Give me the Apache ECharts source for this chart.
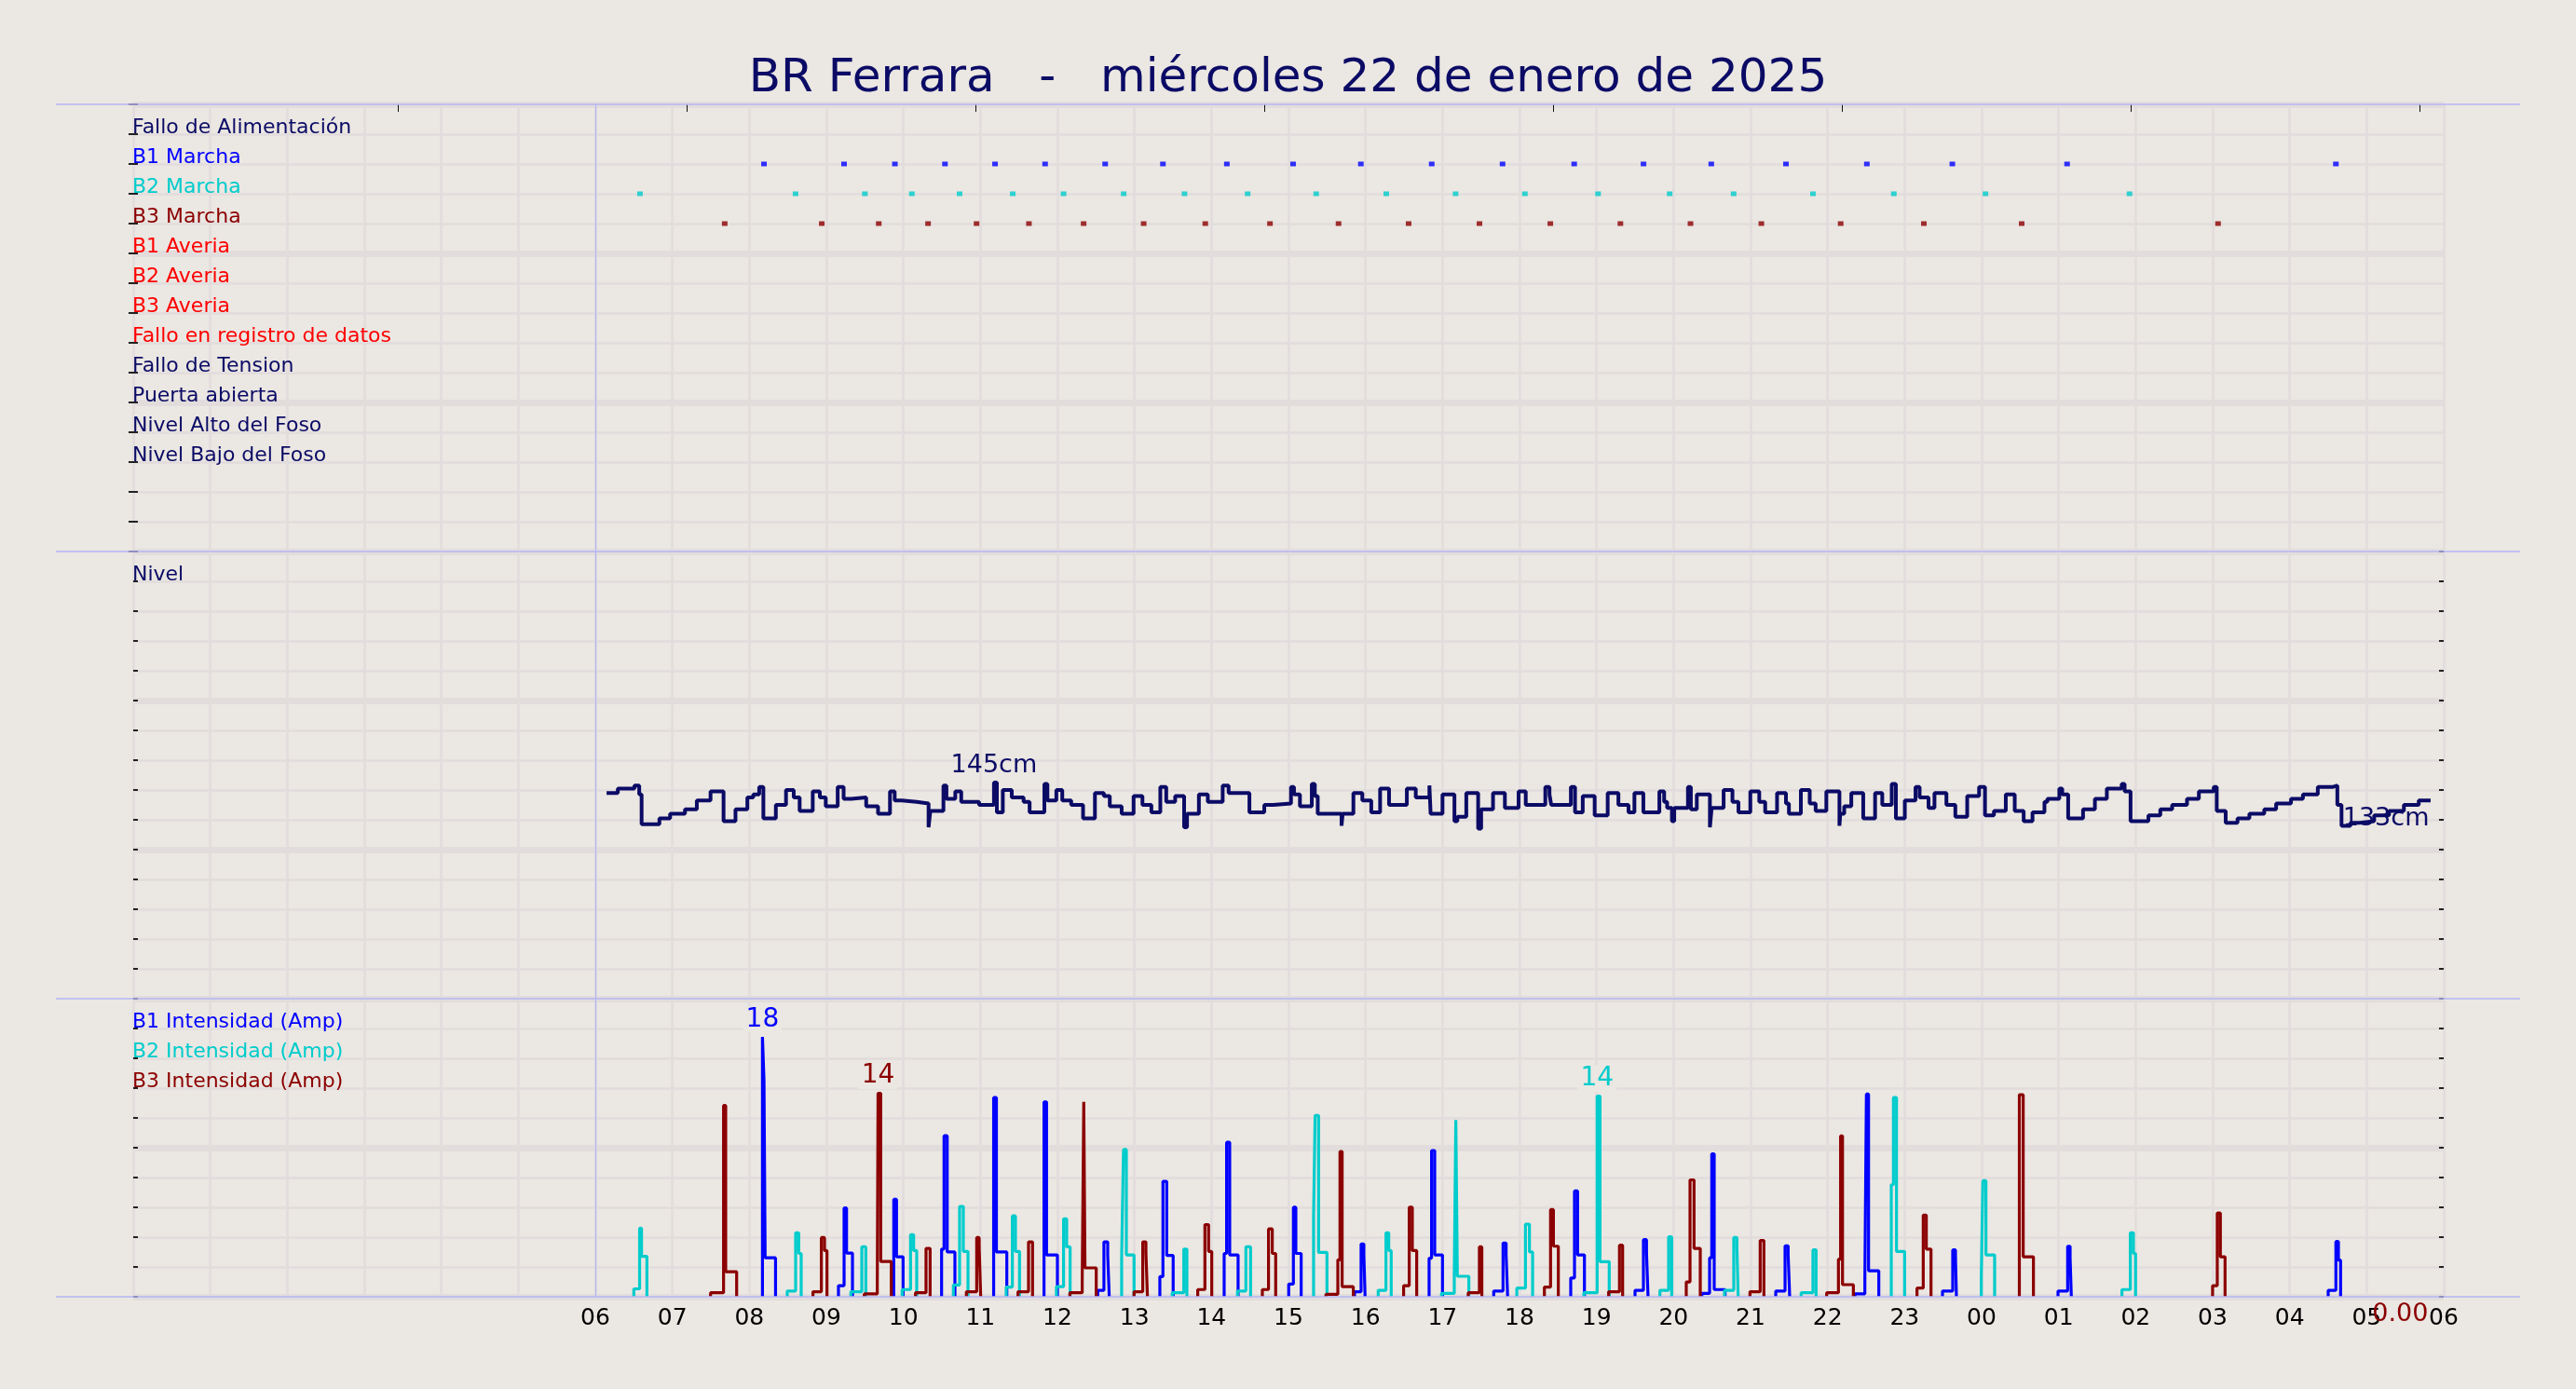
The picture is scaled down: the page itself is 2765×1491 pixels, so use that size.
<!DOCTYPE html>
<html>
<head>
<meta charset="utf-8">
<script src="https://cdn.jsdelivr.net/npm/echarts@6/dist/echarts.min.js"></script>
<style>
html,body{margin:0;padding:0;background:#ebe7e2;}
#c{width:2765px;height:1491px;}
</style>
</head>
<body>
<div id="c"></div>
<script>
// ---------------- DATA ----------------
const titleText = 'BR Ferrara   -   miércoles 22 de enero de 2025';

// x tick labels for hours 6 .. 30 (06:00 day 22 -> 06:00 day 23)
const xTickLabels = ['06','07','08','09','10','11','12','13','14','15','16','17','18','19','20','21','22','23','00','01','02','03','04','05','06'];
const topTicks = [3.44, 7.19, 10.94, 14.69, 18.44, 22.19, 25.94, 29.69];

const statusRows = ['Fallo de Alimentación','B1 Marcha','B2 Marcha','B3 Marcha','B1 Averia','B2 Averia','B3 Averia','Fallo en registro de datos','Fallo de Tension','Puerta abierta','Nivel Alto del Foso','Nivel Bajo del Foso'];
const levelRows = ['Nivel'];
const intensityRows = ['B1 Intensidad (Amp)','B2 Intensidad (Amp)','B3 Intensidad (Amp)'];

// pump start marks (hours)
const b1Marcha = [8.19,9.23,9.89,10.54,11.19,11.84,12.62,13.37,14.20,15.06,15.94,16.86,17.78,18.71,19.61,20.49,21.46,22.51,23.62,25.11,28.60];
const b2Marcha = [6.58,8.60,9.50,10.11,10.73,11.42,12.08,12.86,13.65,14.47,15.36,16.27,17.17,18.07,19.02,19.95,20.78,21.81,22.86,24.05,25.92];
const b3Marcha = [7.68,8.94,9.68,10.32,10.95,11.63,12.34,13.12,13.92,14.76,15.65,16.56,17.48,18.40,19.31,20.22,21.14,22.17,23.25,24.52,27.07];

// level (cm): [hour, value] steps
const levelSteps = [[6.146,138],[6.292,141],[6.508,143],[6.570,137],[6.601,117],[6.832,121],[6.971,124],[7.164,127],[7.318,133],[7.496,139],[7.665,119],[7.820,127],[7.974,135],[8.051,137],[8.128,142],[8.182,121],[8.344,130],[8.476,140],[8.576,135],[8.653,126],[8.823,139],[8.915,135],[8.992,129],[9.147,142],[9.224,134],[9.324,135],[9.517,129],[9.671,124],[9.826,139],[9.887,133],[9.980,132],[10.173,131],[10.327,115],[10.35,126],[10.520,143],[10.559,134],[10.674,139],[10.751,132],[10.983,130],[11.176,145],[11.214,125],[11.291,140],[11.407,135],[11.561,132],[11.639,125],[11.831,144],[11.870,133],[11.986,140],[12.063,133],[12.179,130],[12.333,121],[12.487,138],[12.603,136],[12.680,129],[12.834,124],[12.989,136],[13.104,130],[13.220,125],[13.336,142],[13.413,132],[13.529,136],[13.645,115],[13.683,124],[13.837,137],[13.953,132],[14.146,143],[14.223,138],[14.493,125],[14.686,130],[14.802,131],[15.033,142],[15.072,137],[15.149,129],[15.303,144],[15.342,136],[15.380,124],[15.689,116],[15.704,124],[15.843,138],[15.959,133],[16.075,125],[16.190,141],[16.306,130],[16.537,141],[16.653,135],[16.830,143],[16.846,124],[17.000,137],[17.155,119],[17.193,122],[17.309,138],[17.463,114],[17.502,127],[17.656,138],[17.810,128],
[17.988,139],[18.081,130],[18.335,142],[18.389,137],[18.412,130],[18.667,142],[18.721,125],[18.821,136],[18.976,123],[19.145,138],[19.284,130],[19.415,125],[19.492,138],[19.608,125],[19.816,139],[19.878,132],[19.917,128],[19.979,119],[20.009,128],[20.187,142],[20.225,127],[20.302,137],[20.472,115],[20.495,128],[20.650,140],[20.765,132],[20.843,125],[20.997,139],[21.113,132],[21.190,125],[21.344,138],[21.460,131],[21.498,124],[21.653,140],[21.768,131],[21.845,126],[21.984,139],[22.154,116],[22.165,124],[22.216,129],[22.308,138],[22.463,121],[22.617,138],[22.710,130],[22.833,144],[22.887,121],[23.003,133],[23.142,142],[23.195,135],[23.311,128],[23.388,138],[23.543,130],[23.659,122],[23.813,136],[23.967,142],[24.044,123],[24.160,126],[24.314,137],[24.430,126],[24.546,119],[24.661,125],[24.816,132],[24.854,134],[25.009,141],[25.047,137],[25.124,121],[25.317,127],[25.471,134],[25.626,141],[25.819,144],[25.857,139],[25.934,119],[26.166,123],[26.320,127],[26.474,130],[26.667,134],[26.821,139],[27.014,142],[27.053,126],[27.169,118],[27.323,121],[27.477,124],[27.670,127],[27.824,131],[28.017,134],[28.172,137],[28.365,142],[28.557,143],[28.619,130],[28.673,116],[28.789,118],[28.904,119],[29.097,123],[29.290,126],[29.483,130],[29.676,133],[29.830,133]];

// intensity events (A): [t0, v0, t1, v1, ..., tEnd]
const b1Events = [
[8.17,18.0,8.19,15.0,8.205,2.7,8.34],
[9.157,0.77,9.23,6.15,9.262,3.03,9.339],
[9.875,6.75,9.911,2.77,9.996],
[10.496,3.3,10.528,11.15,10.569,3.1,10.669],
[11.172,13.8,11.208,3.1,11.343],
[11.826,13.5,11.859,2.9,12.0],
[12.524,0.45,12.604,3.8,12.653,2.9,12.673],
[13.33,1.4,13.37,8.0,13.419,2.86,13.503],
[14.165,3.0,14.197,10.7,14.237,2.9,14.346],
[15.003,0.88,15.064,6.2,15.096,3.0,15.165],
[15.858,0.35,15.943,3.66,15.979,2.86,15.995],
[16.826,2.67,16.858,10.13,16.899,2.9,17.0],
[17.665,0.4,17.786,3.72,17.826,2.9,17.846],
[18.665,1.3,18.714,7.33,18.754,2.9,18.843],
[19.5,0.45,19.609,3.96,19.649,3.07,19.669],
[20.367,0.24,20.468,2.7,20.496,9.9,20.528,0.5,20.669],
[21.327,0.4,21.448,3.53,21.488,2.9,21.508],
[22.355,0.2,22.484,1.2,22.504,14.04,22.532,1.8,22.665],
[23.492,0.4,23.625,3.25,23.661,2.7,23.673],
[24.992,0.4,25.117,3.5,25.149,2.7,25.165],
[28.5,0.45,28.6,3.83,28.633,2.54,28.661]
];
const b2Events = [
[6.50,0.55,6.575,4.75,6.60,2.8,6.67],
[8.492,0.4,8.601,4.43,8.641,3.0,8.673],
[9.318,0.35,9.46,3.46,9.512],
[9.984,0.5,10.093,4.3,10.133,3.2,10.173],
[10.649,0.82,10.73,6.26,10.778,3.14,10.839],
[11.335,0.67,11.415,5.6,11.455,3.14,11.508],
[11.987,0.7,12.08,5.4,12.12,3.46,12.165],
[12.834,2.8,12.858,10.2,12.895,2.9,12.995],
[13.49,0.28,13.641,3.3,13.681],
[14.338,0.4,14.447,3.46,14.508],
[15.326,5.55,15.346,12.56,15.391,3.07,15.5],
[16.165,0.45,16.266,4.43,16.302,3.2,16.334],
[16.987,0.24,17.153,1.68,17.173,12.24,17.193,1.42,17.342],
[17.965,0.6,18.077,5.03,18.129,3.1,18.17],
[18.835,0.28,19.008,13.9,19.045,2.43,19.165],
[19.823,0.45,19.936,4.15,19.976],
[20.661,0.45,20.782,4.1,20.823,3.4,20.839],
[21.657,0.28,21.81,3.25,21.851],
[22.827,7.76,22.855,13.8,22.895,3.14,23.0],
[23.996,1.42,24.016,8.04,24.056,2.9,24.169],
[25.822,0.5,25.931,4.43,25.971,3.0,25.999]
];
const b3Events = [
[7.496,0.28,7.665,13.25,7.693,1.74,7.835],
[8.826,0.35,8.935,4.1,8.976,3.2,9.008],
[9.492,0.2,9.661,0.67,9.671,14.1,9.706,2.45,9.843],
[10.157,0.28,10.294,3.35,10.347],
[10.818,0.35,10.952,4.1,10.984,3.46,11.004],
[11.488,0.35,11.625,3.8,11.677],
[12.161,0.28,12.322,1.1,12.342,13.5,12.358,2.0,12.504],
[12.995,0.35,13.108,3.8,13.149,3.07,13.169],
[13.822,0.5,13.915,5.0,13.963,3.14,14.004],
[14.661,0.5,14.741,4.7,14.79,3.0,14.834],
[15.487,0.17,15.641,2.56,15.669,10.06,15.697,0.7,15.842],
[16.495,0.77,16.568,6.2,16.608,3.2,16.665],
[17.334,0.28,17.479,3.46,17.511],
[18.323,0.67,18.403,6.04,18.44,3.5,18.504],
[19.157,0.35,19.298,3.57,19.339],
[20.165,1.03,20.214,8.1,20.266,3.35,20.347],
[20.992,0.35,21.125,3.9,21.173],
[21.988,0.28,22.141,2.6,22.169,11.14,22.194,0.84,22.335],
[23.161,0.6,23.242,5.66,23.282,3.3,23.343],
[24.49,14.0,24.54,2.77,24.673],
[26.999,0.77,27.06,5.8,27.1,2.77,27.161]
];
const b3LastValue = 0.00;

// ---------------- STYLE ----------------
const FONT = 'DejaVu Sans';
const BG = '#ebe7e2', GRIDC = '#e2dddc', LAV = '#b4b4f4', NAVY = '#0b0b66';
const B1C = '#0000ff', B2C = '#00cccc', B3C = '#8b0000', REDC = '#ff0000';
const statusColors = [NAVY,B1C,B2C,B3C,REDC,REDC,REDC,REDC,NAVY,NAVY,NAVY,NAVY];
const intensityColors = [B1C,B2C,B3C];
const PL = 143, PR = 2623;
const PANELS = [[112,592],[592,1072],[1072,1392]];

// ---------------- BUILD ----------------
function eventsToSteps(events){
  const pts = [];
  events.forEach(ev => {
    const tEnd = ev[ev.length-1];
    pts.push([ev[0], 0]);
    for (let i = 0; i + 1 < ev.length; i += 2) pts.push([ev[i], ev[i+1]]);
    pts.push([tEnd, 0]);
    pts.push([tEnd, '-']);
  });
  return pts;
}
function maxPoint(pts){
  let best = null;
  pts.forEach(p => { if (typeof p[1] === 'number' && (!best || p[1] > best[1])) best = p; });
  return best;
}
const b1Data = eventsToSteps(b1Events), b2Data = eventsToSteps(b2Events), b3Data = eventsToSteps(b3Events);
const lastLevel = levelSteps[levelSteps.length-1];
const maxLevel = maxPoint(levelSteps);

function rowLabel(labels, colors, idxOf){
  const rich = {};
  labels.forEach((t,i) => { rich['r'+i] = {color: colors[i], fontSize: 22, fontFamily: FONT, lineHeight: 13}; });
  return {show:true, inside:true, margin:-1, align:'left', verticalAlign:'bottom',
    formatter: v => { const i = idxOf(v); return (i >= 0 && i < labels.length) ? '{r'+i+'|'+labels[i]+'}' : ''; },
    rich};
}
const tickIn = {show:true, inside:true, length:5, lineStyle:{color:'#222', width:2}};
function minorAxis(grid, min, max, interval, inverse, label){
  return {type:'value', gridIndex:grid, min, max, interval, inverse, position:'left',
    axisLine:{show:false}, axisTick:tickIn,
    splitLine:{show:true, lineStyle:{color:GRIDC, width:2.5}},
    axisLabel: label || {show:false}};
}
function rightAxis(grid, min, max, interval, inverse){
  return {type:'value', gridIndex:grid, min, max, interval, inverse, position:'right',
    axisLine:{show:false}, axisTick:tickIn, splitLine:{show:false}, axisLabel:{show:false}};
}
function majorAxis(grid, min, max, interval, inverse){
  return {type:'value', gridIndex:grid, min, max, interval, inverse, position:'left',
    axisLine:{show:false}, axisTick:{show:false}, axisLabel:{show:false},
    splitLine:{show:true, lineStyle:{color:GRIDC, width:7}}};
}
function xAxisFor(grid, labels){
  return {type:'value', gridIndex:grid, min:0, max:30, interval:1,
    axisLine:{show:false}, axisTick:{show:false},
    splitLine:{show:true, lineStyle:{color:GRIDC, width:2.5}},
    axisLabel: labels ? {show:true, color:'#000', fontSize:25, fontFamily:FONT, margin:11,
      formatter: v => (v >= 6 && v - 6 < xTickLabels.length) ? xTickLabels[v-6] : ''} : {show:false}};
}
const startLine = {silent:true, symbol:'none', label:{show:false},
  lineStyle:{color:LAV, width:1.2, type:'solid'}, data:[{xAxis:6}]};

const marchaSeries = (data, row, color) => ({
  type:'scatter', xAxisIndex:0, yAxisIndex:0, symbol:'rect', symbolSize:[6,5],
  itemStyle:{color}, data: data.map(t => [t, row]), z:5
});
const ampSeries = (data, color, extra) => Object.assign({
  type:'line', xAxisIndex:2, yAxisIndex:9, step:'end', showSymbol:false,
  lineStyle:{color, width:3.2}, itemStyle:{color}, data, connectNulls:false
}, extra || {});
const maxMark = (pts, color) => ({
  symbol:'circle', symbolSize:1, itemStyle:{color:'rgba(0,0,0,0)'},
  label:{show:true, position:'top', distance:4, color, fontSize:28, fontFamily:FONT,
    backgroundColor:BG, padding:[0,3,0,3], formatter: p => String(Math.round(p.value))},
  data:[{coord: maxPoint(pts), value: maxPoint(pts)[1]}]
});

const option = {
  backgroundColor: BG,
  animation: false,
  title: {text: titleText, left:'center', top:55,
    textStyle:{fontFamily:FONT, fontSize:50, fontWeight:'normal', color:NAVY}},
  grid: PANELS.map(p => ({left:PL, right:2765-PR, top:p[0], height:p[1]-p[0]})),
  xAxis: [xAxisFor(0,false), xAxisFor(1,false), xAxisFor(2,true),
    {type:'value', gridIndex:0, position:'top', min:0, max:30,
      axisLine:{show:false}, splitLine:{show:false}, axisLabel:{show:false},
      axisTick:{show:true, inside:true, length:8, customValues: topTicks, lineStyle:{color:'#111', width:1}}}],
  yAxis: [
    minorAxis(0, 0, 15, 1, true, rowLabel(statusRows, statusColors, v => v-1)),
    rightAxis(0, 0, 15, 1, true),
    majorAxis(0, 0, 15, 5, true),
    minorAxis(1, 0, 300, 20, false, rowLabel(levelRows, [NAVY], v => (v===280 ? 0 : -1))),
    rightAxis(1, 0, 300, 20, false),
    majorAxis(1, 0, 300, 100, false),
    minorAxis(2, 0, 10, 1, true, rowLabel(intensityRows, intensityColors, v => v-1)),
    rightAxis(2, 0, 10, 1, true),
    majorAxis(2, 0, 10, 5, true),
    {type:'value', gridIndex:2, min:0, max:20.65, show:false, splitLine:{show:false}}
  ],
  graphic: PANELS.map(p => p[0]).concat([PANELS[2][1]]).map(y => ({
    type:'line', z:100, silent:true, shape:{x1:60, y1:y, x2:2705, y2:y}, style:{stroke:LAV, lineWidth:1.5}
  })),
  series: [
    Object.assign(marchaSeries(b1Marcha, 2, B1C), {markLine: startLine}),
    marchaSeries(b2Marcha, 3, B2C),
    marchaSeries(b3Marcha, 4, B3C),
    {type:'line', xAxisIndex:1, yAxisIndex:3, step:'end', showSymbol:false,
      lineStyle:{color:NAVY, width:4}, itemStyle:{color:NAVY}, data: levelSteps,
      markLine: startLine,
      markPoint:{symbol:'circle', symbolSize:1, itemStyle:{color:'rgba(0,0,0,0)'},
        data:[
          {coord: maxLevel, value: maxLevel[1], label:{show:true, position:'top', distance:4, color:NAVY, fontSize:27, fontFamily:FONT, formatter: p => p.value+'cm'}},
          {coord: lastLevel, value: lastLevel[1], label:{show:true, position:'left', distance:1, offset:[0,20], color:NAVY, fontSize:27, fontFamily:FONT, formatter: p => p.value+'cm'}}
        ]}},
    ampSeries(b1Data, B1C, {markLine: startLine, markPoint: maxMark(b1Data, B1C)}),
    ampSeries(b2Data, B2C, {markPoint: maxMark(b2Data, B2C)}),
    ampSeries(b3Data, B3C, {markPoint: {
      symbol:'circle', symbolSize:1, itemStyle:{color:'rgba(0,0,0,0)'},
      data:[
        {coord: maxPoint(b3Data), value: maxPoint(b3Data)[1], label:{show:true, position:'top', distance:4, color:B3C, fontSize:28, fontFamily:FONT, backgroundColor:BG, padding:[0,3,0,3], formatter: p => String(Math.round(p.value))}},
        {coord: [lastLevel[0], b3LastValue], value: b3LastValue, label:{show:true, position:'left', distance:2, offset:[0,19], color:B3C, fontSize:27, fontFamily:FONT, formatter: p => p.value.toFixed(2)}}
      ]}})
  ]
};
const chart = echarts.init(document.getElementById('c'), null, {width:2765, height:1491});
chart.setOption(option);
</script>
</body>
</html>
